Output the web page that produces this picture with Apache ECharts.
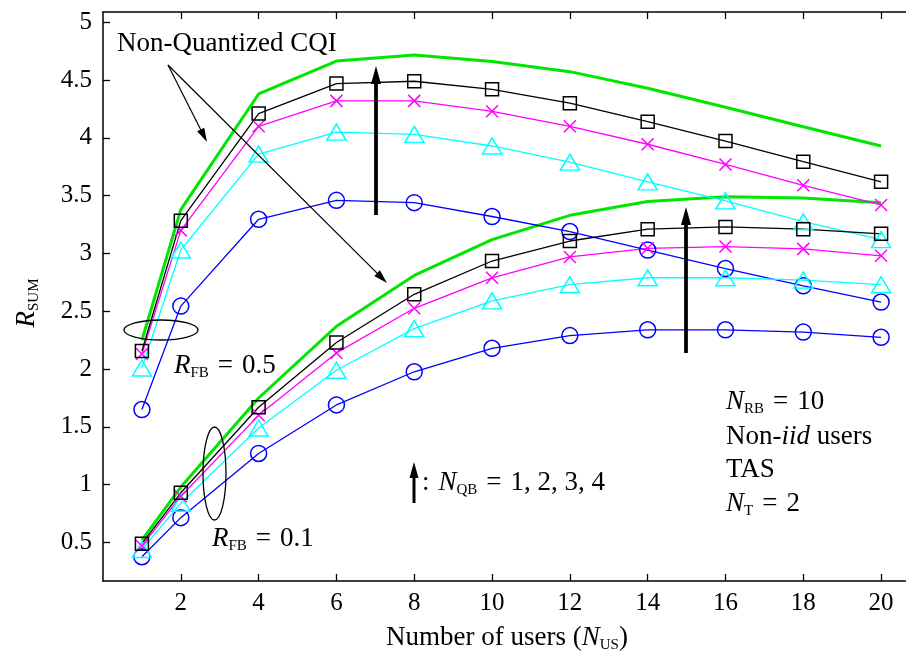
<!DOCTYPE html>
<html>
<head>
<meta charset="utf-8">
<script src="https://cdn.jsdelivr.net/npm/echarts@6/dist/echarts.min.js"></script>
<style>html,body{margin:0;padding:0;background:#fff}#c{width:906px;height:659px}</style>
</head>
<body>
<div id="c"></div>
<script>
// ---- data ----
const users = [1, 2, 4, 6, 8, 10, 12, 14, 16, 18, 20];
const xTicks = [2, 4, 6, 8, 10, 12, 14, 16, 18, 20];
const yTicks = [0.5, 1, 1.5, 2, 2.5, 3, 3.5, 4, 4.5, 5];
// R_FB = 0.5
const nonQuant05 = [2.25, 3.38, 4.38, 4.665, 4.717, 4.66, 4.573, 4.43, 4.265, 4.097, 3.93];
const qb4_05 = [2.157, 3.284, 4.21, 4.47, 4.49, 4.42, 4.30, 4.14, 3.973, 3.794, 3.62];
const qb3_05 = [2.13, 3.20, 4.10, 4.32, 4.32, 4.23, 4.10, 3.945, 3.77, 3.59, 3.42];
const qb2_05 = [2.01, 3.03, 3.86, 4.05, 4.03, 3.93, 3.79, 3.62, 3.455, 3.275, 3.12];
const qb1_05 = [1.65, 2.545, 3.296, 3.46, 3.44, 3.32, 3.19, 3.03, 2.87, 2.72, 2.58];
// R_FB = 0.1
const nonQuant01 = [0.52, 0.98, 1.75, 2.37, 2.81, 3.12, 3.33, 3.45, 3.49, 3.48, 3.44];
const qb4_01 = [0.49, 0.93, 1.67, 2.23, 2.647, 2.935, 3.108, 3.21, 3.23, 3.21, 3.17];
const qb3_01 = [0.47, 0.90, 1.60, 2.14, 2.526, 2.79, 2.97, 3.045, 3.06, 3.04, 2.98];
const qb2_01 = [0.44, 0.84, 1.49, 1.99, 2.35, 2.59, 2.73, 2.79, 2.79, 2.77, 2.73];
const qb1_01 = [0.377, 0.715, 1.27, 1.69, 1.977, 2.18, 2.29, 2.34, 2.34, 2.32, 2.275];

// ---- styling ----
const FONT = '"Liberation Serif", serif';
const FS = 25;      // tick labels
const AFS = 27;     // annotations
const SFS = 15;     // subscripts
const GREEN = '#00e600', BLACK = '#000000', MAGENTA = '#ff00ff', CYAN = '#00ffff', BLUE = '#0000ff';
const CROSS = 'path://M0,0L10,10M10,0L0,10';
const EQ = '\u2004=\u2004';

function pairs(vals) { return users.map((u, i) => [u, vals[i]]); }

function quantSeries(vals, color, symbol, size) {
  return {
    type: 'line', data: pairs(vals), symbol: symbol, symbolSize: size,
    showAllSymbol: true,
    lineStyle: { color: color, width: 1.3 },
    itemStyle: { color: 'rgba(255,255,255,0)', borderColor: color, borderWidth: 1.5 },
    emphasis: { disabled: true }, silent: true, z: 3
  };
}
function nqSeries(vals) {
  return {
    type: 'line', data: pairs(vals), symbol: 'none',
    lineStyle: { color: GREEN, width: 3 }, emphasis: { disabled: true }, silent: true, z: 2
  };
}

const series = [
  nqSeries(nonQuant05),
  quantSeries(qb1_05, BLUE, 'circle', 16),
  quantSeries(qb2_05, CYAN, 'triangle', [19, 16]),
  quantSeries(qb3_05, MAGENTA, CROSS, 12),
  quantSeries(qb4_05, BLACK, 'rect', 13),
  nqSeries(nonQuant01),
  quantSeries(qb1_01, BLUE, 'circle', 16),
  quantSeries(qb2_01, CYAN, 'triangle', [19, 16]),
  quantSeries(qb3_01, MAGENTA, CROSS, 12),
  quantSeries(qb4_01, BLACK, 'rect', 13)
];

const axisLine = { show: true, onZero: false, lineStyle: { color: '#000', width: 1.5 } };
const tickStyle = { color: '#000', width: 1.3 };

const option = {
  animation: false,
  grid: { left: 103, right: 0, top: 12, bottom: 78, containLabel: false },
  xAxis: [
    {
      type: 'value', position: 'bottom', min: 0, max: 20.64,
      axisLine: axisLine,
      axisTick: { show: true, inside: true, length: 7, customValues: xTicks, lineStyle: tickStyle },
      axisLabel: { customValues: xTicks, color: '#000', fontFamily: FONT, fontSize: FS, margin: 10 },
      splitLine: { show: false }
    },
    {
      type: 'value', position: 'top', min: 0, max: 20.64,
      axisLine: axisLine,
      axisTick: { show: true, inside: true, length: 7, customValues: xTicks, lineStyle: tickStyle },
      axisLabel: { show: false }, splitLine: { show: false }
    }
  ],
  yAxis: {
    type: 'value', min: 0.167, max: 5.089,
    axisLine: axisLine,
    axisTick: { show: true, inside: true, length: 7, customValues: yTicks, lineStyle: tickStyle },
    axisLabel: { customValues: yTicks, color: '#000', fontFamily: FONT, fontSize: FS, margin: 11 },
    splitLine: { show: false }
  },
  series: series
};

const chart = echarts.init(document.getElementById('c'), null, { renderer: 'canvas' });
chart.setOption(option);

// ---- annotations ----
const richBase = {
  m: { fontFamily: FONT, fontSize: AFS, fontStyle: 'italic', lineHeight: 36, verticalAlign: 'middle', fill: '#000' },
  s: { fontFamily: FONT, fontSize: SFS, lineHeight: 16, verticalAlign: 'bottom', fill: '#000', padding: [0, 0, 3, 0] },
  t: { fontFamily: FONT, fontSize: AFS, lineHeight: 36, verticalAlign: 'middle', fill: '#000' },
  p: { fontFamily: FONT, fontSize: AFS, lineHeight: 36, verticalAlign: 'middle', fill: '#000' },
  it: { fontFamily: FONT, fontSize: AFS, fontStyle: 'italic', lineHeight: 36, verticalAlign: 'middle', fill: '#000' }
};
function subText(x, y, main, sub, tail, opts) {
  opts = opts || {};
  let txt = (opts.pre || '') + '{m|' + main + '}{s|' + sub + '}' + (tail ? '{t|' + tail + '}' : '');
  return {
    type: 'text', x: x, y: y, rotation: opts.rotation || 0, z: 20,
    style: { text: txt, rich: richBase, textAlign: opts.align || 'left', textVerticalAlign: 'middle' }
  };
}
function plainText(x, y, text, align) {
  return {
    type: 'text', x: x, y: y, z: 20,
    style: { text: text, fontFamily: FONT, fontSize: AFS, fill: '#000', textAlign: align || 'left', textVerticalAlign: 'middle' }
  };
}
function arrow(x1, y1, x2, y2, lw, hl, hw) {
  const dx = x2 - x1, dy = y2 - y1, L = Math.sqrt(dx * dx + dy * dy);
  const ux = dx / L, uy = dy / L, px = -uy, py = ux;
  const bx = x2 - ux * hl, by = y2 - uy * hl;
  return [
    { type: 'line', z: 20, shape: { x1: x1, y1: y1, x2: bx + ux * 1, y2: by + uy * 1 }, style: { stroke: '#000', lineWidth: lw } },
    { type: 'polygon', z: 20, shape: { points: [[x2, y2], [bx + px * hw, by + py * hw], [bx - px * hw, by - py * hw]] }, style: { fill: '#000' } }
  ];
}

const g = [];
g.push(plainText(117, 44, 'Non-Quantized CQI'));
g.push(...arrow(168, 65, 207, 142, 1.2, 14, 4));
g.push(...arrow(168, 65, 387, 283, 1.2, 14, 4));
g.push(...arrow(376, 215, 376, 66, 3.8, 18, 5));
g.push(...arrow(686, 353, 686, 207, 3.8, 18, 5));
g.push(...arrow(414, 503, 414, 462, 3, 16, 4.5));
g.push({ type: 'ellipse', z: 20, shape: { cx: 161, cy: 330, rx: 37, ry: 10 }, style: { fill: 'none', stroke: '#000', lineWidth: 1.3 } });
g.push({ type: 'ellipse', z: 20, shape: { cx: 214.5, cy: 473.5, rx: 11.5, ry: 46.5 }, style: { fill: 'none', stroke: '#000', lineWidth: 1.3 } });
g.push(subText(174, 366, 'R', 'FB', EQ + '0.5'));
g.push(subText(212, 539, 'R', 'FB', EQ + '0.1'));
g.push(subText(422, 483, 'N', 'QB', EQ + '1, 2, 3, 4', { pre: '{p|:\u2004}' }));
g.push(subText(726, 402, 'N', 'RB', EQ + '10'));
g.push({
  type: 'text', x: 726, y: 437, z: 20,
  style: { text: '{p|Non-}{it|iid}{p| users}', textVerticalAlign: 'middle', rich: richBase }
});
g.push(plainText(726, 470, 'TAS'));
g.push(subText(726, 504, 'N', 'T', EQ + '2'));
// axis names
g.push(subText(507, 638, 'N', 'US', ')', { pre: '{p|Number of users (}', align: 'center' }));
g.push(subText(27, 303, 'R', 'SUM', '', { rotation: Math.PI / 2, align: 'center' }));

chart.setOption({ graphic: g });
</script>
</body>
</html>
